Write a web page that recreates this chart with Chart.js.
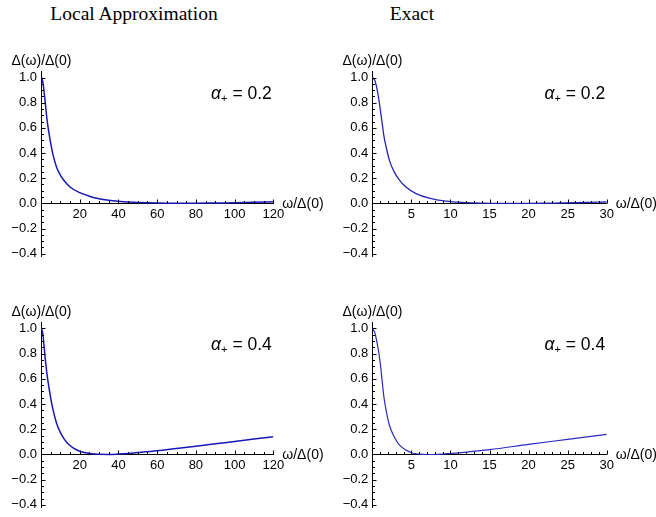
<!DOCTYPE html>
<html>
<head>
<meta charset="utf-8">
<script src="https://cdn.jsdelivr.net/npm/chart.js@4.4.0/dist/chart.umd.min.js"></script>
<style>
  html, body { margin: 0; padding: 0; background: #fff; }
  body { width: 656px; height: 517px; position: relative; overflow: hidden; }
  canvas { position: absolute; }
  .col-title {
    position: absolute; top: 3px;
    font-family: 'Liberation Serif', serif; font-size: 19.5px; color: #000;
    transform: translateX(-50%); white-space: nowrap;
  }
</style>
</head>
<body>
<div class="col-title" style="left:134px">Local Approximation</div>
<div class="col-title" style="left:412px">Exact</div>
<canvas id="localTop" width="330" height="250" style="left:0;top:40px"></canvas>
<canvas id="exactTop" width="326" height="250" style="left:330px;top:40px"></canvas>
<canvas id="localBottom" width="330" height="227" style="left:0;top:290px"></canvas>
<canvas id="exactBottom" width="326" height="227" style="left:330px;top:290px"></canvas>
<script>
// DATA
// local approximation, alpha+ = 0.2
const localOmegaA = [0.3, 1, 2, 3, 4, 5, 6, 8, 10, 12, 15, 20, 25, 30, 35, 40, 45, 50, 60, 70, 80, 90, 100, 110, 120];
const localGapA   = [1.0, 0.96, 0.83, 0.68, 0.57, 0.48, 0.40, 0.29, 0.225, 0.18, 0.13, 0.085, 0.057, 0.037, 0.025, 0.017, 0.011, 0.007, 0.002, 0.0, 0.001, 0.003, 0.005, 0.008, 0.012];
// exact, alpha+ = 0.2
const exactOmegaA = [0, 0.3, 0.6, 0.85, 1.1, 1.3, 1.5, 1.8, 2.2, 2.8, 3.4, 4.3, 5.6, 7.3, 9.4, 12, 14, 16, 18, 20, 22, 24, 26, 28, 30];
const exactGapA   = [1.0, 0.98, 0.91, 0.82, 0.71, 0.62, 0.53, 0.44, 0.34, 0.25, 0.19, 0.13, 0.078, 0.041, 0.017, 0.006, 0.002, 0.0, 0.0, 0.0, 0.001, 0.003, 0.005, 0.008, 0.011];
// local approximation, alpha+ = 0.4
const localOmegaB = [0.3, 1, 2, 3, 4, 5, 6, 8, 10, 12, 14, 17, 20, 23, 26, 30, 35, 40, 45, 50, 60, 70, 80, 90, 100, 110, 120];
const localGapB   = [1.0, 0.95, 0.79, 0.65, 0.54, 0.45, 0.37, 0.25, 0.175, 0.122, 0.085, 0.048, 0.026, 0.013, 0.005, 0.001, 0.0, 0.003, 0.008, 0.015, 0.03, 0.048, 0.066, 0.085, 0.103, 0.122, 0.14];
// exact, alpha+ = 0.4
const exactOmegaB = [0, 0.3, 0.6, 0.85, 1.1, 1.3, 1.5, 1.8, 2.2, 2.8, 3.4, 4.3, 5.1, 6, 7, 8, 9, 10, 12, 15, 20, 25, 30];
const exactGapB   = [1.0, 0.97, 0.89, 0.80, 0.68, 0.56, 0.45, 0.34, 0.23, 0.14, 0.08, 0.035, 0.012, 0.003, 0.0, 0.0, 0.003, 0.008, 0.018, 0.038, 0.08, 0.12, 0.16];

const alphaValues = ['0.2', '0.4'];
const yTicks = [-0.4, -0.2, 0, 0.2, 0.4, 0.6, 0.8, 1.0];
const xTicksLocal = [20, 40, 60, 80, 100, 120];
const xTicksExact = [5, 10, 15, 20, 25, 30];

const Y_MIN = -0.42, Y_MAX = 1.045;
const FONT = '"Liberation Sans", Arial, sans-serif';

function toPoints(xs, ys) {
    return xs.map((x, i) => ({ x: x, y: ys[i] }));
}

function formatY(v) {
    return v.toFixed(1).replace('-', '\u2212');
}

// minor/major ticks pointing inward, axis labels and the alpha note
const axisDecor = {
    id: 'axisDecor',
    afterDraw(chart, args, opts) {
        const { ctx, chartArea } = chart;
        const xs = chart.scales.x, ys = chart.scales.y;
        const x0 = Math.round(xs.getPixelForValue(0)) + 0.5;
        const y0 = Math.round(ys.getPixelForValue(0)) + 0.5;
        ctx.save();
        ctx.strokeStyle = '#000';
        ctx.lineWidth = 1;
        ctx.beginPath();
        for (let v = opts.minorStep; v <= xs.max + 1e-9; v += opts.minorStep) {
            const major = opts.majors.some(m => Math.abs(m - v) < 1e-6);
            const px = Math.round(xs.getPixelForValue(v)) + 0.5;
            ctx.moveTo(px, y0);
            ctx.lineTo(px, y0 - (major ? 4 : 2.5));
        }
        for (let k = -8; k <= 20; k++) {
            const v = k * 0.05;
            if (k === 0) continue;
            const major = k % 4 === 0;
            const py = Math.round(ys.getPixelForValue(v)) + 0.5;
            ctx.moveTo(x0, py);
            ctx.lineTo(x0 + (major ? 4 : 2.5), py);
        }
        ctx.stroke();

        ctx.fillStyle = '#000';
        ctx.font = '14px ' + FONT;
        ctx.textBaseline = 'middle';
        ctx.textAlign = 'center';
        ctx.fillText('\u0394(\u03c9)/\u0394(0)', x0, chartArea.top - 10.5);
        ctx.textAlign = 'left';
        ctx.fillText('\u03c9/\u0394(0)', chartArea.right + 9, y0 + 1);

        // alpha_+ = value, right aligned near the top right
        const rest = ' = ' + opts.alpha;
        ctx.textBaseline = 'alphabetic';
        ctx.font = 'italic 17.5px ' + FONT;
        const wA = ctx.measureText('\u03b1').width;
        ctx.font = '11px ' + FONT;
        const wP = ctx.measureText('+').width;
        ctx.font = '17.5px ' + FONT;
        const wR = ctx.measureText(rest).width;
        const base = ys.getPixelForValue(0.875) + 6;
        let x = chartArea.right - 1.5 - (wA + wP + wR);
        ctx.font = 'italic 17.5px ' + FONT;
        ctx.fillText('\u03b1', x, base);
        x += wA;
        ctx.font = '11px ' + FONT;
        ctx.fillText('+', x, base + 3);
        x += wP;
        ctx.font = '17.5px ' + FONT;
        ctx.fillText(rest, x, base);
        ctx.restore();
    }
};

function createPanel(p) {
    const ctx = document.getElementById(p.id).getContext('2d');
    return new Chart(ctx, {
        type: 'line',
        data: {
            datasets: [{
                data: toPoints(p.xs, p.ys),
                borderColor: p.color,
                borderWidth: p.width,
                pointRadius: 0,
                fill: false,
                cubicInterpolationMode: 'monotone'
            }]
        },
        options: {
            responsive: false,
            animation: false,
            events: [],
            layout: { padding: { left: 0, right: p.padRight, top: p.padTop, bottom: p.padBottom } },
            plugins: {
                legend: { display: false },
                tooltip: { enabled: false },
                axisDecor: { majors: p.majors, minorStep: p.minorStep, alpha: p.alpha }
            },
            scales: {
                x: {
                    type: 'linear',
                    min: 0,
                    max: p.xMax,
                    position: { y: 0 },
                    grid: { display: true, drawOnChartArea: false, drawTicks: false },
                    border: { display: true, color: '#000', width: 1 },
                    afterBuildTicks: s => { s.ticks = p.majors.map(v => ({ value: v })); },
                    afterFit: s => { s.height = 0; s.paddingLeft = s.paddingRight = 0; },
                    ticks: {
                        autoSkip: false, maxRotation: 0, padding: 3,
                        color: '#000', font: { family: FONT, size: 13 },
                        callback: v => String(v)
                    }
                },
                y: {
                    type: 'linear',
                    min: Y_MIN,
                    max: Y_MAX,
                    position: 'left',
                    grid: { display: true, drawOnChartArea: false, drawTicks: false },
                    border: { display: true, color: '#000', width: 1 },
                    afterBuildTicks: s => { s.ticks = yTicks.map(v => ({ value: v })); },
                    afterFit: s => { s.width = p.axisLeft; s.paddingTop = s.paddingBottom = 0; },
                    ticks: {
                        autoSkip: false, padding: 4,
                        color: '#000', font: { family: FONT, size: 13 },
                        callback: v => formatY(v)
                    }
                }
            }
        },
        plugins: [axisDecor]
    });
}

createPanel({ id: 'localTop', xs: localOmegaA, ys: localGapA, xMax: 120, majors: xTicksLocal, minorStep: 5,
    alpha: alphaValues[0], color: '#1818b8', width: 1.5, axisLeft: 41, padRight: 56.7, padTop: 31.9, padBottom: 33.8 });
createPanel({ id: 'exactTop', xs: exactOmegaA, ys: exactGapA, xMax: 30, majors: xTicksExact, minorStep: 1,
    alpha: alphaValues[0], color: '#2424bc', width: 1.3, axisLeft: 42.3, padRight: 49.3, padTop: 31.9, padBottom: 33.8 });
createPanel({ id: 'localBottom', xs: localOmegaB, ys: localGapB, xMax: 120, majors: xTicksLocal, minorStep: 5,
    alpha: alphaValues[1], color: '#1818b8', width: 1.5, axisLeft: 41, padRight: 56.7, padTop: 32.8, padBottom: 9.6 });
createPanel({ id: 'exactBottom', xs: exactOmegaB, ys: exactGapB, xMax: 30, majors: xTicksExact, minorStep: 1,
    alpha: alphaValues[1], color: '#2a2ac0', width: 1.2, axisLeft: 42.3, padRight: 49.3, padTop: 32.8, padBottom: 9.6 });
</script>
</body>
</html>
